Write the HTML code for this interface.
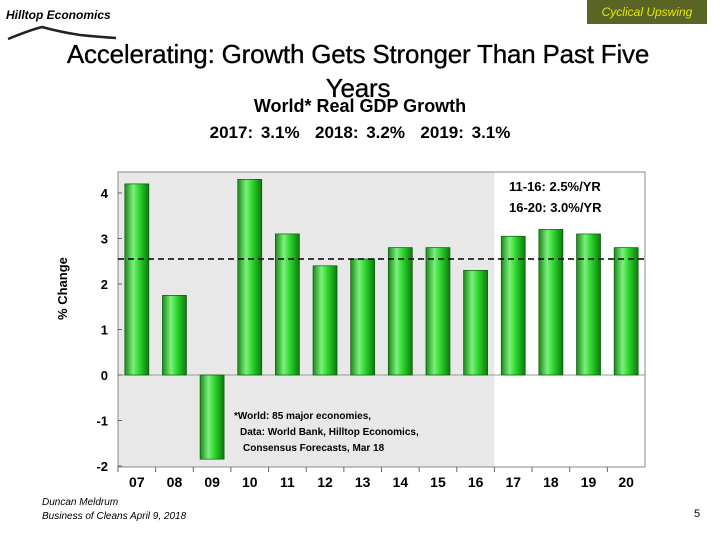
<!DOCTYPE html>
<html><head><meta charset="utf-8"><style>
body{margin:0;width:720px;height:540px;background:#fff;position:relative;overflow:hidden;font-family:"Liberation Sans",sans-serif}
.abs{position:absolute}
</style></head><body>
<div class="abs" style="left:6px;top:8px;font-size:12px;font-weight:bold;font-style:italic">Hilltop Economics</div>
<svg class="abs" style="left:0;top:24px" width="130" height="18"><path d="M8,15 Q30,6 42,3 Q60,8 80,11 Q100,13 116,14" stroke="#222" stroke-width="2.5" fill="none"/></svg>
<div class="abs" style="left:587px;top:0;width:120px;height:24px;background:#5a6424;color:#e8e800;font-size:12px;font-style:italic;text-align:center;line-height:24px">Cyclical Upswing</div>
<div class="abs" style="left:20px;top:37px;width:676px;text-align:center;font-size:26px;line-height:34px;letter-spacing:-0.2px;-webkit-text-stroke:0.3px #000">Accelerating: Growth Gets Stronger Than Past Five<br>Years</div>
<div class="abs" style="left:180px;top:96px;width:360px;text-align:center;font-size:18px;font-weight:bold">World* Real GDP Growth</div>
<div class="abs" style="left:160px;top:123px;width:400px;text-align:center;font-size:17px;font-weight:bold;word-spacing:3px">2017: 3.1%&nbsp; 2018: 3.2%&nbsp; 2019: 3.1%</div>
<svg class="abs" id="chart" style="left:0;top:0" width="720" height="540"></svg>
<div class="abs" style="left:42px;top:496px;font-size:10px;font-style:italic;line-height:14px">Duncan Meldrum<br>Business of Cleans April 9, 2018</div>
<div class="abs" style="left:694px;top:508px;font-size:11px">5</div>
<script>
const categories=["07","08","09","10","11","12","13","14","15","16","17","18","19","20"];
const values=[4.2,1.75,-1.85,4.3,3.1,2.4,2.55,2.8,2.8,2.3,3.05,3.2,3.1,2.8];
const yTicks=[-2,-1,0,1,2,3,4];
const avgLine=2.55;
const shadedUntil=9;
const svg=document.getElementById('chart');const NS='http://www.w3.org/2000/svg';
const L=118,R=645,T=172,B=467,zero=375,unit=45.5;
const y=v=>zero-v*unit;
const step=(R-L)/categories.length;
const x=i=>L+step*(i+0.5);
function mk(t,a){const e=document.createElementNS(NS,t);for(const k in a)e.setAttribute(k,a[k]);svg.appendChild(e);return e;}
const defs=mk('defs',{});
defs.innerHTML='<linearGradient id="g" x1="0" x2="1"><stop offset="0" stop-color="#1a8a1a"/><stop offset="0.35" stop-color="#7cf07c"/><stop offset="0.6" stop-color="#2ed62e"/><stop offset="1" stop-color="#0c7a0c"/></linearGradient>';
let e=mk('rect',{x:L,y:T,width:x(shadedUntil)+step/2-L,height:B-T,fill:'#e8e8e8'});

e=mk('rect',{x:L,y:T,width:R-L,height:B-T,fill:'none',stroke:'#888'});

e=mk('line',{x1:L,x2:R,y1:y(0),y2:y(0),stroke:'#999'});

yTicks.forEach(t=>{const tx=mk('text',{x:L-10,y:y(t)+5,'text-anchor':'end','font-size':13,'font-weight':'bold'});tx.textContent=t;

mk('line',{x1:L,x2:L+4,y1:y(t),y2:y(t),stroke:'#666'});});
categories.forEach((c,i)=>{const v=values[i];const bw=24;
const r=mk('rect',{x:x(i)-bw/2,y:Math.min(y(v),y(0)),width:bw,height:Math.abs(y(v)-y(0)),fill:'url(#g)',stroke:'#0a5a0a','stroke-width':0.7});

const tx=mk('text',{x:x(i),y:B+20,'text-anchor':'middle','font-size':14,'font-weight':'bold'});tx.textContent=c;

mk('line',{x1:L+step*i,x2:L+step*i,y1:B,y2:B+5,stroke:'#666'});});
e=mk('line',{x1:L,x2:R,y1:y(avgLine),y2:y(avgLine),stroke:'#000','stroke-width':1.5,'stroke-dasharray':'6,4'});

e=mk('text',{x:67,y:y(1.9),'text-anchor':'middle','font-size':13,'font-weight':'bold',transform:'rotate(-90 67 '+y(1.9)+')'});e.textContent='% Change';

[["11-16: 2.5%/YR",191],["16-20: 3.0%/YR",212]].forEach(([s,yy])=>{const t=mk('text',{x:509,y:yy,'font-size':13,'font-weight':'bold'});t.textContent=s;
});
[["*World: 85 major economies,",234,419],["Data: World Bank, Hilltop Economics,",240,435],["Consensus Forecasts, Mar 18",243,451]].forEach(([s,xx,yy])=>{const t=mk('text',{x:xx,y:yy,'font-size':10,'font-weight':'bold'});t.textContent=s;
});
</script>
</body></html>
